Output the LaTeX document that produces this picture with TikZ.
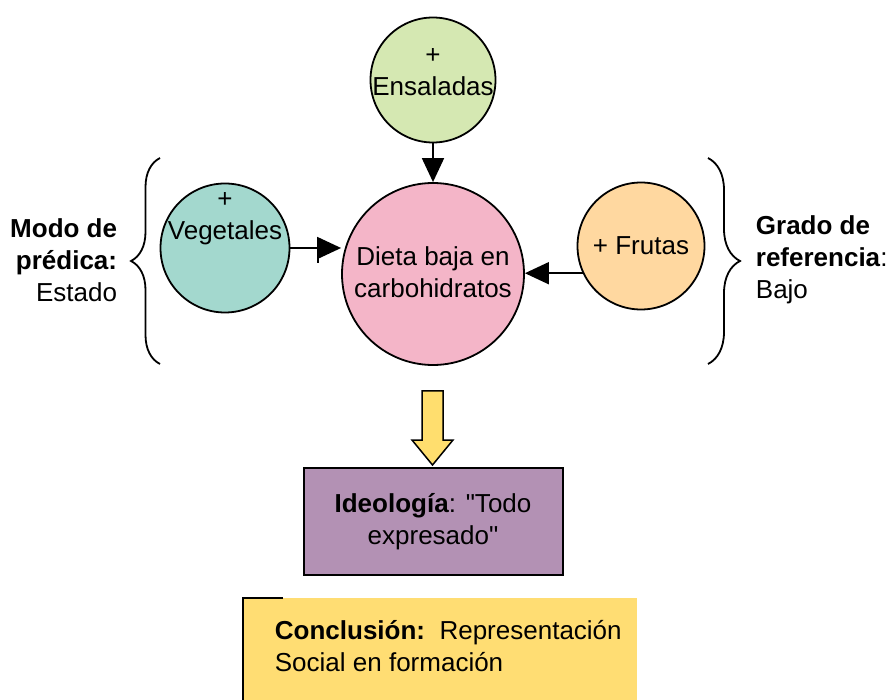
\documentclass[tikz,border=0pt]{standalone}
\usepackage{fontspec}
\setmainfont{Liberation Sans}
\usetikzlibrary{arrows.meta,decorations.pathreplacing}

\definecolor{verdeE}{RGB}{213,232,178}
\definecolor{rosaD}{RGB}{244,181,200}
\definecolor{tealV}{RGB}{163,216,206}
\definecolor{naranjaF}{RGB}{255,216,160}
\definecolor{moradoI}{RGB}{179,145,180}
\definecolor{amarilloA}{RGB}{255,222,110}
\definecolor{amarilloC}{RGB}{255,221,115}

\begin{document}
\begin{tikzpicture}[
        x = 1pt, y = -1pt, % one unit per pixel, y grows downwards
        -{Triangle[length=24pt,width=22pt]}, % arrow head style
        line width = 1.8pt, % line style
        font = \fontsize{26}{32}\selectfont
      ]

      \tikzstyle{burbuja}=[circle,draw=black,line width=1.8pt,inner sep=0pt]
      \tikzstyle{texto}=[align=center,inner sep=0pt]
      \tikzstyle{llave}=[-,decorate,line width=1.8pt]

      \useasboundingbox (0,0) rectangle (886,700);

      \node[burbuja,fill=rosaD,minimum size=182pt] (dieta) at (433,274) {};
      \node[texto] (dieta-txt) at (433,272) {Dieta baja en\\carbohidratos};
      \node[burbuja,fill=verdeE,minimum size=125pt] (ensaladas) at (433,80) {};
      \node[texto] (ensaladas-txt) at (433,72) {+\\Ensaladas};
      \node[burbuja,fill=tealV,minimum size=129pt] (vegetales) at (225,248) {};
      \node[texto] (vegetales-txt) at (225,219) {+\\Vegetales};
      \node[burbuja,fill=naranjaF,minimum size=127pt] (frutas) at (641,246) {};
      \node[texto] (frutas-txt) at (641,246) {+ Frutas};

      \path (ensaladas) edge (dieta);
      \path (vegetales.east) edge (vegetales.east -| dieta.west);
      \path (frutas.205) edge (frutas.205 -| dieta.east);
      \draw[-] (318,249) -- (318,263);

      \draw[llave,decoration={brace,amplitude=29pt}] (160,364) -- (160,158);
      \draw[llave,decoration={brace,amplitude=32pt}] (708,158) -- (708,364);

      \node[texto,anchor=east,align=right] (modo) at (118,260)
        {\textbf{Modo de}\\\textbf{prédica:}\\Estado};
      \node[texto,anchor=west,align=left] (grado) at (755,260)
        {\textbf{Grado de}\\\textbf{referencia}:\\Bajo};

      \draw[-,fill=amarilloA,line width=1.5pt] (422,391) -- (443,391) -- (443,440)
        -- (453,440) -- (432.5,465) -- (412,440) -- (422,440) -- cycle;

      \node[draw=black,fill=moradoI,minimum width=259pt,minimum height=107pt,
        texto,line width=2pt] (ideologia) at (433,521.5)
        {\textbf{Ideología}: \textquotedbl Todo\\expresado\textquotedbl};

      \fill[amarilloC] (243,598) rectangle (637,700);
      \draw[-,line width=2.6pt] (283,598) -- (243,598) -- (243,700);
      \node[texto,anchor=north west,align=left] (conclusion) at (274,619)
        {\textbf{Conclusión:}\ \ Representación\\Social en formación};

    \end{tikzpicture}
\end{document}
